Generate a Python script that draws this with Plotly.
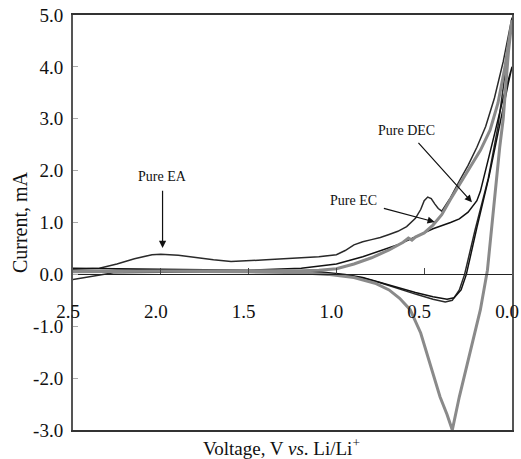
import plotly.graph_objects as go

# ---------------- data ----------------
# Pure EA : forward scan (2.5 -> 0 V) followed by return scan (0 -> 2.5 V)
ea_v = [2.5, 2.35, 2.25, 2.15, 2.05, 2.0, 1.9, 1.8, 1.7, 1.6, 1.5, 1.4, 1.3, 1.2, 1.1, 1.0,
        0.95, 0.9, 0.85, 0.8, 0.75, 0.7, 0.65, 0.6, 0.55, 0.52, 0.50, 0.48, 0.46, 0.44, 0.42, 0.40,
        0.35, 0.30, 0.25, 0.20, 0.15, 0.10, 0.05, 0.0,
        0.03, 0.05, 0.08, 0.135, 0.21, 0.25, 0.27, 0.30, 0.34, 0.38, 0.45, 0.55, 0.65,
        0.75, 0.85, 0.95, 1.1, 1.5, 2.0, 2.27, 2.5]
ea_i = [0.10, 0.12, 0.20, 0.30, 0.38, 0.39, 0.37, 0.32, 0.28, 0.25, 0.26, 0.28, 0.30, 0.32, 0.34, 0.38,
        0.46, 0.57, 0.63, 0.67, 0.71, 0.77, 0.83, 0.92, 1.08, 1.25, 1.42, 1.49, 1.46, 1.36, 1.27, 1.22,
        1.48, 1.80, 2.10, 2.45, 2.85, 3.40, 4.10, 4.95,
        4.10, 3.60, 2.85, 1.85, 0.86, 0.30, 0.00, -0.30, -0.50, -0.53, -0.48, -0.38, -0.27,
        -0.16, -0.07, -0.01, 0.03, 0.05, 0.04, 0.03, -0.10]

# Pure EC
ec_v = [2.5, 2.0, 1.5, 1.2, 1.1, 1.0, 0.9, 0.8, 0.7, 0.62, 0.59, 0.57, 0.55, 0.5, 0.45, 0.4,
        0.35, 0.3, 0.26, 0.22, 0.18, 0.125, 0.08, 0.04, 0.0,
        0.02, 0.05, 0.07, 0.10, 0.14, 0.18, 0.24, 0.30, 0.34, 0.37, 0.41, 0.47, 0.52, 0.58,
        0.64, 0.70, 0.78, 0.90, 1.05, 1.2, 1.5, 2.0, 2.5]
ec_i = [0.06, 0.06, 0.06, 0.07, 0.08, 0.11, 0.20, 0.32, 0.47, 0.62, 0.70, 0.66, 0.72, 0.80, 0.95, 1.15,
        1.45, 1.72, 1.95, 2.15, 2.39, 2.78, 3.30, 4.00, 4.90,
        4.30, 3.00, 2.45, 1.40, 0.08, -0.68, -1.52, -2.36, -3.00, -2.70, -2.36, -1.71, -1.13, -0.68,
        -0.46, -0.30, -0.17, -0.06, 0.00, 0.03, 0.05, 0.06, 0.05]

# Pure DEC
dec_v = [2.5, 2.3, 2.1, 2.0, 1.5, 1.2, 1.0, 0.85, 0.65, 0.55, 0.45, 0.35, 0.3, 0.25, 0.2, 0.18,
         0.15, 0.1, 0.05, 0.0,
         0.02, 0.05, 0.085, 0.13, 0.2, 0.24, 0.26, 0.29, 0.33, 0.37, 0.45, 0.55, 0.65, 0.75,
         0.85, 0.95, 1.1, 1.5, 2.0, 2.5]
dec_i = [0.05, 0.07, 0.10, 0.10, 0.08, 0.12, 0.20, 0.34, 0.57, 0.72, 0.88, 1.00, 1.07, 1.20, 1.42, 1.60,
         2.00, 2.70, 3.40, 4.00,
         3.70, 3.20, 2.60, 1.90, 0.90, 0.30, 0.00, -0.30, -0.45, -0.48, -0.43, -0.35, -0.25, -0.15,
         -0.06, 0.00, 0.05, 0.08, 0.10, 0.12]

y_ticks = [5, 4, 3, 2, 1, 0, -1, -2, -3]
y_tick_text = ["5.0", "4.0", "3.0", "2.0", "1.0", "0.0", "-1.0", "-2.0", "-3.0"]
x_ticks = [2.5, 2.0, 1.5, 1.0, 0.5, 0.0]
x_tick_text = ["2.5", "2.0", "1.5", "1.0", "0.5", "0.0"]
zero_v = [2.5, 0.0]
zero_i = [0.0, 0.0]

# label text, label position, arrow tip, start standoff (px)
labels = [
    ("Pure EA", 1.99, 1.88, 1.99, 0.51, 5),
    ("Pure EC", 0.905, 1.43, 0.44, 1.01, 6),
    ("Pure DEC", 0.598, 2.78, 0.228, 1.39, 5),
]

SERIF = "Liberation Serif, Times New Roman, serif"

fig = go.Figure()
fig.add_trace(go.Scatter(x=ea_v, y=ea_i, mode="lines", name="Pure EA",
                         line=dict(color="#2a2a2a", width=1.5), showlegend=False))
fig.add_trace(go.Scatter(x=dec_v, y=dec_i, mode="lines", name="Pure DEC",
                         line=dict(color="#111111", width=1.5), showlegend=False))
fig.add_trace(go.Scatter(x=ec_v, y=ec_i, mode="lines", name="Pure EC",
                         line=dict(color="#8a8a8a", width=3), showlegend=False))
# carrier for the zero-line axis
fig.add_trace(go.Scatter(x=zero_v, y=zero_i, xaxis="x2", mode="lines",
                         line=dict(color="rgba(0,0,0,0)", width=0), hoverinfo="skip",
                         showlegend=False))

for text, lx, ly, tx, ty, so in labels:
    fig.add_annotation(x=tx, y=ty, ax=lx, ay=ly, xref="x", yref="y", axref="x", ayref="y",
                       text=text, showarrow=True, arrowhead=2, arrowsize=1.2, arrowwidth=1.2,
                       arrowcolor="#111", startstandoff=so,
                       font=dict(family=SERIF, size=14, color="#111"))

# x-axis title
fig.add_annotation(x=0.476, y=-0.041, xref="paper", yref="paper", showarrow=False,
                   text="Voltage, V <i>vs</i>. Li/Li<sup>+</sup>", yanchor="middle",
                   font=dict(family=SERIF, size=19, color="#111"))

fig.update_layout(
    width=521, height=459,
    margin=dict(l=73, r=9, t=15, b=29, autoexpand=False),
    paper_bgcolor="white", plot_bgcolor="white",
    font=dict(family=SERIF, size=19, color="#111"),
    xaxis=dict(range=[2.5, 0], showticklabels=False, ticks="", showgrid=False, zeroline=False,
               showline=True, mirror=True, linecolor="#333", linewidth=1.5, automargin=False),
    xaxis2=dict(overlaying="x", anchor="free", position=0.375, side="bottom",
                range=[2.5, 0], tickvals=x_ticks, ticktext=x_tick_text,
                ticks="inside", ticklen=6, tickcolor="#444", showgrid=False, zeroline=False,
                showline=True, linecolor="#222", linewidth=1, ticklabelstandoff=20,
                ticklabelshift=5, ticklabeloverflow="allow", automargin=False,
                tickfont=dict(family=SERIF, size=19)),
    yaxis=dict(range=[-3, 5], tickvals=y_ticks, ticktext=y_tick_text, ticks="inside",
               ticklen=5, tickcolor="#aaa", showgrid=False, zeroline=False,
               showline=True, mirror=True, linecolor="#555", linewidth=2,
               ticklabelstandoff=4, automargin=False,
               tickfont=dict(family=SERIF, size=19),
               title=dict(text="Current, mA", font=dict(family=SERIF, size=20), standoff=0)),
)

fig.write_html("out.html")
